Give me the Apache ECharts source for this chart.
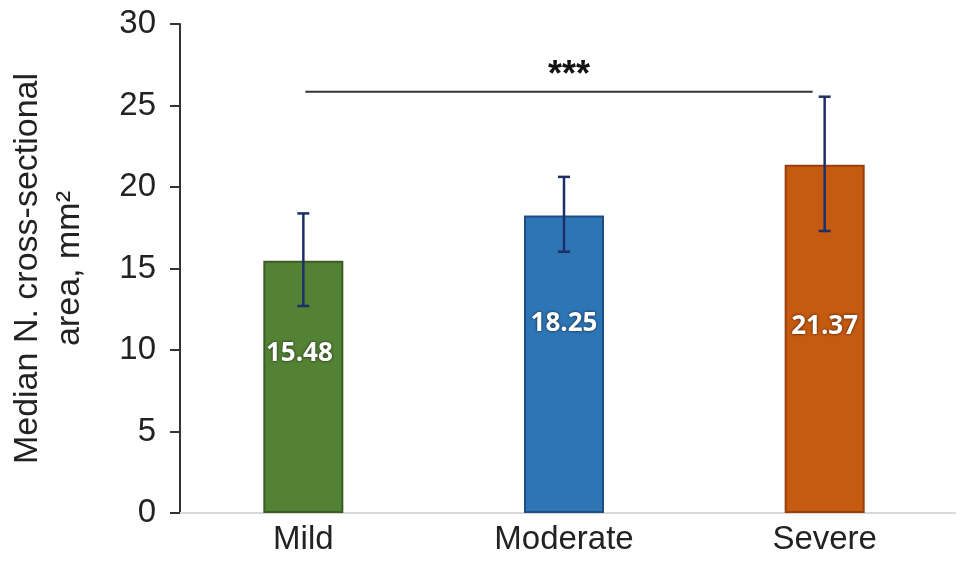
<!DOCTYPE html>
<html>
<head>
<meta charset="utf-8">
<script src="https://cdn.jsdelivr.net/npm/echarts@6/dist/echarts.min.js"></script>
<style>html,body{margin:0;padding:0;background:#fff;}#c{width:969px;height:566px;}</style>
</head>
<body>
<div id="c"></div>
<script>
var categories = ['Mild', 'Moderate', 'Severe'];
var medians = [15.48, 18.25, 21.37];
var errLow = [12.7, 16.03, 17.3];
var errHigh = [18.38, 20.62, 25.54];
var sigLevel = 25.85;
var sigText = '***';
var yTicks = {min: 0, max: 30, interval: 5};

var fills = ['#548235', '#2e75b6', '#c55a11'];
var borders = ['#3b5c22', '#1f4e85', '#9a3f0a'];
var labelOffsets = [[-4, -33], [0, -41], [0, -12]];

var chart = echarts.init(document.getElementById('c'), null, {renderer: 'canvas'});

var barData = medians.map(function (v, i) {
  return {
    value: v,
    itemStyle: {color: fills[i], borderColor: borders[i], borderWidth: 2},
    label: {offset: labelOffsets[i]}
  };
});

var errData = categories.map(function (c, i) { return [i, errLow[i], errHigh[i]]; });

chart.setOption({
  animation: false,
  grid: {left: 173, right: 14, top: 24, bottom: 53, containLabel: false, outerBoundsMode: 'none'},
  xAxis: {
    type: 'category',
    data: categories,
    axisLine: {lineStyle: {color: '#d9d9d9', width: 2}},
    axisTick: {show: false},
    axisLabel: {color: '#222', fontSize: 33, fontFamily: 'Liberation Sans', margin: 10}
  },
  yAxis: {
    type: 'value',
    min: yTicks.min, max: yTicks.max, interval: yTicks.interval,
    offset: -7,
    splitLine: {show: false},
    axisLine: {show: true, lineStyle: {color: '#333', width: 2}},
    axisTick: {show: true, length: 10, lineStyle: {color: '#333', width: 2}},
    axisLabel: {color: '#222', fontSize: 33, fontFamily: 'Liberation Sans', margin: 24},
    name: 'Median N. cross-sectional\narea, mm\u00b2',
    nameLocation: 'middle',
    nameRotate: 90,
    nameGap: 89,
    nameTextStyle: {color: '#222', fontSize: 34, fontFamily: 'Liberation Sans', lineHeight: 42}
  },
  series: [
    {
      type: 'bar',
      data: barData,
      barWidth: 80,
      label: {
        show: true,
        position: 'inside',
        color: '#fff',
        fontSize: 26,
        fontWeight: 'bold',
        fontFamily: 'Open Sans',
        textShadowColor: 'rgba(0,0,0,0.75)',
        textShadowBlur: 3,
        formatter: function (p) { return p.value.toFixed(2); }
      },
      z: 2
    },
    {
      type: 'custom',
      data: errData,
      z: 5,
      renderItem: function (params, api) {
        var i = api.value(0);
        var lo = api.coord([i, api.value(1)]);
        var hi = api.coord([i, api.value(2)]);
        var cap = 6;
        var st = {stroke: '#1c2f66', lineWidth: 2.5};
        return {
          type: 'group',
          children: [
            {type: 'line', shape: {x1: hi[0], y1: hi[1], x2: lo[0], y2: lo[1]}, style: st},
            {type: 'line', shape: {x1: hi[0] - cap, y1: hi[1], x2: hi[0] + cap, y2: hi[1]}, style: st},
            {type: 'line', shape: {x1: lo[0] - cap, y1: lo[1], x2: lo[0] + cap, y2: lo[1]}, style: st}
          ]
        };
      }
    },
    {
      type: 'custom',
      data: [[0, 2, sigLevel]],
      z: 5,
      renderItem: function (params, api) {
        var a = api.coord([api.value(0), api.value(2)]);
        var b = api.coord([api.value(1), api.value(2)]);
        var x1 = a[0] + 2, x2 = b[0] - 12;
        return {
          type: 'group',
          children: [
            {type: 'line', shape: {x1: x1, y1: a[1], x2: x2, y2: a[1]}, style: {stroke: '#333', lineWidth: 2}},
            {type: 'text', style: {text: sigText, x: (x1 + x2) / 2 + 10, y: a[1] - 16, align: 'center', verticalAlign: 'middle',
              fill: '#111', font: 'bold 36px "Liberation Sans"'}}
          ]
        };
      }
    }
  ]
});
</script>
</body>
</html>
